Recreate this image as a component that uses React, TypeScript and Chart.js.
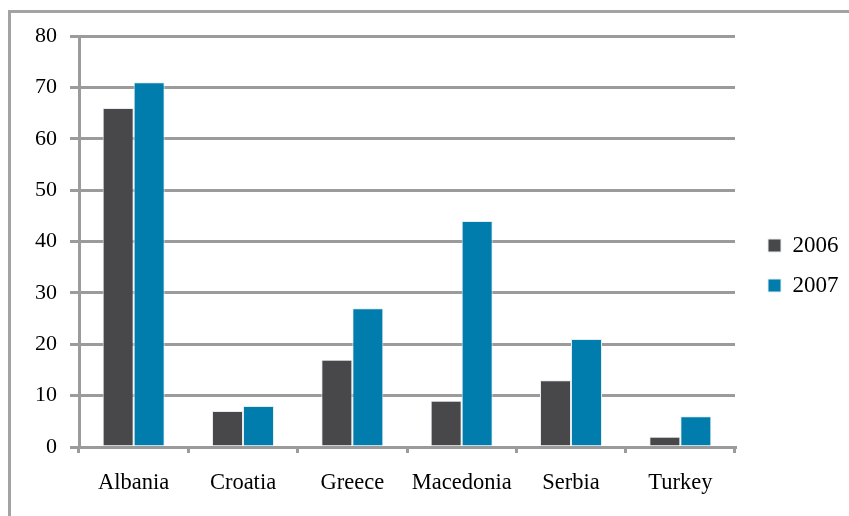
import React, { useEffect, useRef } from "react";
import { Chart, registerables } from "chart.js";

Chart.register(...registerables);

const categories: string[] = ["Albania", "Croatia", "Greece", "Macedonia", "Serbia", "Turkey"];
const seriesNames: string[] = ["2006", "2007"];
const values2006: number[] = [66, 7, 17, 9, 13, 2];
const values2007: number[] = [71, 8, 27, 44, 21, 6];
const yMin = 0;
const yMax = 80;
const yStep = 10;

const GRID = "#9b9b9b";
const DARK = "#48484a";
const BLUE = "#007dac";
const FONT = "'Liberation Serif', 'Times New Roman', serif";

const legendPlace = {
  id: "legendPlace",
  afterLayout(chart: any) {
    const lg = chart.legend;
    if (!lg) return;
    lg.left = 751;
    lg.right = 849;
    lg.top = 217;
    lg.bottom = 330;
    lg.width = lg.right - lg.left;
    lg.height = lg.bottom - lg.top;
  },
};

export default function App() {
  const ref = useRef<HTMLCanvasElement | null>(null);

  useEffect(() => {
    if (!ref.current) return;
    const chart = new Chart(ref.current, {
      type: "bar",
      data: {
        labels: categories,
        datasets: [
          {
            label: seriesNames[0],
            data: values2006,
            backgroundColor: DARK,
            borderColor: "#e4ecef",
            borderWidth: 1,
          },
          {
            label: seriesNames[1],
            data: values2007,
            backgroundColor: BLUE,
            borderColor: "#e4ecef",
            borderWidth: 1,
          },
        ],
      },
      options: {
        animation: false,
        responsive: true,
        maintainAspectRatio: false,
        layout: { padding: { top: 36, right: 114, left: 0, bottom: 0 } },
        datasets: {
          bar: { categoryPercentage: 0.567, barPercentage: 1 },
        },
        plugins: {
          tooltip: { enabled: false },
          legend: {
            position: "chartArea" as any,
            align: "start",
            labels: {
              boxWidth: 13,
              boxHeight: 13,
              padding: 17,
              color: "#000",
              font: { family: FONT, size: 23 },
            },
          },
        },
        scales: {
          x: {
            afterFit: (s: any) => {
              s.height = 69;
            },
            grid: {
              offset: true,
              drawOnChartArea: false,
              drawTicks: true,
              tickLength: 6,
              color: GRID,
              lineWidth: 3,
            },
            border: { display: true, color: GRID, width: 3 },
            ticks: {
              color: "#000",
              padding: 17,
              font: { family: FONT, size: 22.5 },
              maxRotation: 0,
            },
          },
          y: {
            min: yMin,
            max: yMax,
            afterFit: (s: any) => {
              s.width = 79;
            },
            grid: {
              color: GRID,
              lineWidth: 3,
              drawTicks: true,
              tickLength: 9,
            },
            border: { display: true, color: GRID, width: 3 },
            ticks: {
              stepSize: yStep,
              color: "#000",
              padding: 13,
              font: { family: FONT, size: 22 },
            },
          },
        },
      },
      plugins: [legendPlace],
    });
    return () => chart.destroy();
  }, []);

  return (
    <div
      style={{
        position: "fixed",
        left: 0,
        top: 0,
        width: 849,
        height: 516,
        overflow: "hidden",
        background: "#fff",
      }}
    >
      <div
        style={{
          position: "absolute",
          left: 8,
          top: 10,
          width: 900,
          height: 600,
          border: "3px solid #a3a3a3",
        }}
      />
      <div style={{ position: "absolute", left: 0, top: 0, width: 849, height: 516 }}>
        <canvas ref={ref} />
      </div>
    </div>
  );
}
